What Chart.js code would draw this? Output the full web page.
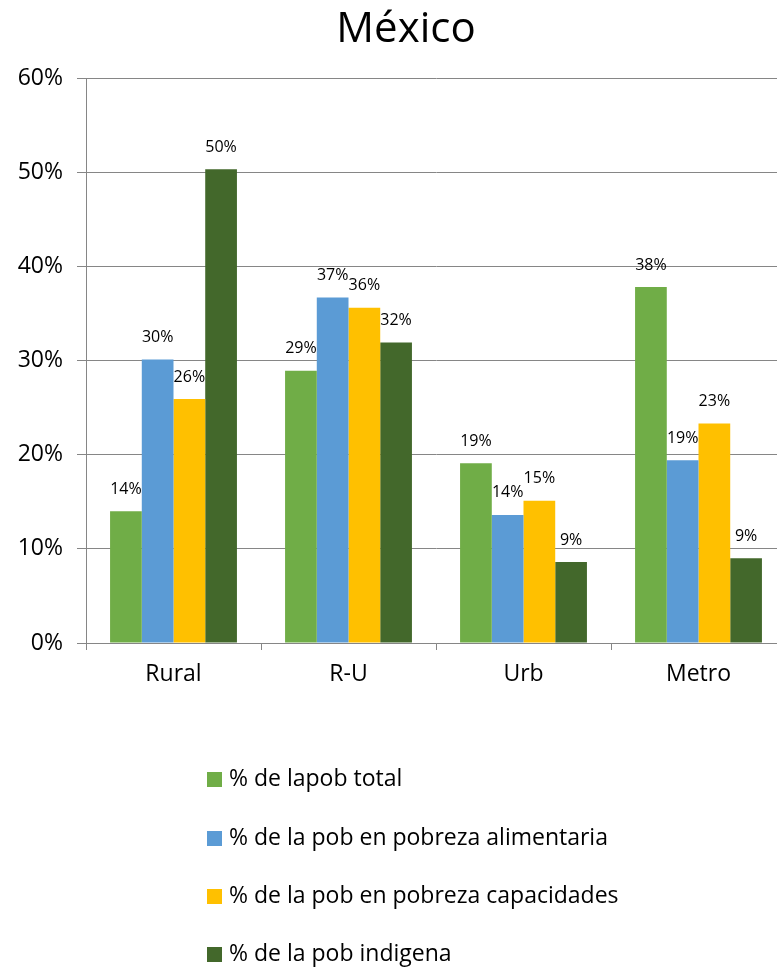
<!DOCTYPE html>
<html><head><meta charset="utf-8">
<script src="https://cdn.jsdelivr.net/npm/chart.js@4.4.0/dist/chart.umd.min.js"></script>
<style>
html,body{margin:0;padding:0;overflow:hidden;background:#fff;}
#wrap{position:relative;width:812px;height:967px;}
#legend{position:absolute;left:207px;top:0;font-family:"Open Sans";font-size:23px;color:#000;}
.item{position:absolute;left:0;white-space:nowrap;display:flex;align-items:center;height:30px;}
.box{width:15px;height:15px;margin-right:7px;flex:none;}
.txt{position:relative;top:-2px;}
</style></head><body>
<div id="wrap"><canvas id="c" width="812" height="967"></canvas><div id="legend"></div></div>
<script>
const categories = ['Rural', 'R-U', 'Urb', 'Metro'];
const seriesNames = [
  '% de lapob total',
  '% de la pob en pobreza alimentaria',
  '% de la pob en pobreza capacidades',
  '% de la pob indigena'
];
const pobTotal = [14.0, 28.9, 19.1, 37.8];
const pobAlimentaria = [30.1, 36.7, 13.6, 19.4];
const pobCapacidades = [25.9, 35.6, 15.1, 23.3];
const pobIndigena = [50.3, 31.9, 8.6, 9.0];
const yTickValues = [0, 10, 20, 30, 40, 50, 60];
const seriesColors = ['#70AD47', '#5B9BD5', '#FFC000', '#43682B'];

const seriesData = [pobTotal, pobAlimentaria, pobCapacidades, pobIndigena];

Chart.defaults.font.family = '"Open Sans"';
Chart.defaults.color = '#000';

const labelPlugin = {
  id: 'barLabels',
  afterDatasetsDraw(chart) {
    const ctx = chart.ctx;
    ctx.save();
    ctx.font = '16px "Open Sans"';
    ctx.fillStyle = '#000';
    ctx.textAlign = 'center';
    ctx.textBaseline = 'middle';
    chart.data.datasets.forEach((ds, i) => {
      chart.getDatasetMeta(i).data.forEach((bar, j) => {
        ctx.fillText(Math.round(ds.data[j]) + '%', bar.x, bar.y - 22);
      });
    });
    ctx.restore();
  }
};

new Chart(document.getElementById('c'), {
  type: 'bar',
  data: {
    labels: categories,
    datasets: seriesNames.map((name, i) => ({
      label: name,
      data: seriesData[i],
      backgroundColor: seriesColors[i],
      borderWidth: 0,
      categoryPercentage: 0.725,
      barPercentage: 1.0
    }))
  },
  options: {
    responsive: false,
    animation: false,
    devicePixelRatio: 1,
    layout: { padding: { left: 0, right: 0, top: 0, bottom: 264 } },
    plugins: {
      legend: { display: false },
      tooltip: { enabled: false },
      title: {
        display: true,
        text: 'México',
        color: '#000',
        font: { size: 42, family: '"Open Sans"', weight: 'normal', lineHeight: 1.2 },
        padding: { top: 5, bottom: 22.6 }
      }
    },
    scales: {
      x: {
        offset: true,
        grid: { offset: true, drawOnChartArea: false, drawTicks: true, tickLength: 7, color: '#868686' },
        border: { color: '#868686' },
        ticks: { font: { size: 23 }, padding: 11, color: '#000' },
        afterFit(s) { s.height = 60; }
      },
      y: {
        min: 0, max: 60,
        afterBuildTicks(s) { s.ticks = yTickValues.map(v => ({ value: v })); },
        grid: { color: '#868686', tickLength: 9 },
        border: { color: '#868686' },
        ticks: { font: { size: 23 }, padding: 14, color: '#000', callback: v => v + '%' },
        afterFit(s) { s.width = 86; }
      },
      yPad: {
        position: 'right',
        display: true,
        min: 0, max: 60,
        grid: { display: false, drawOnChartArea: false },
        border: { display: false },
        ticks: { display: false },
        afterFit(s) { s.width = 26; }
      }
    }
  },
  plugins: [labelPlugin]
});

const legendEl = document.getElementById('legend');
const legendCenters = [779, 838, 896, 954];
seriesNames.forEach((name, i) => {
  const it = document.createElement('div');
  it.className = 'item';
  it.style.top = (legendCenters[i] - 15) + 'px';
  const b = document.createElement('span');
  b.className = 'box';
  b.style.background = seriesColors[i];
  const t = document.createElement('span');
  t.className = 'txt';
  t.textContent = name;
  it.appendChild(b); it.appendChild(t);
  legendEl.appendChild(it);
});
</script>
</body></html>
